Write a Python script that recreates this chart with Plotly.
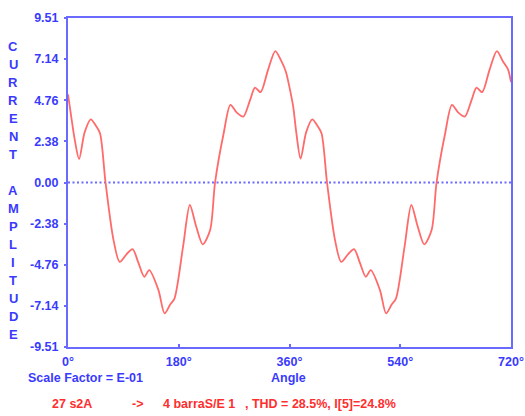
import plotly.graph_objects as go

# Current waveform samples over two cycles (angle in degrees, amplitude in scaled units)
angle_deg = [
    0, 6, 11, 18, 27, 37, 45, 52, 61, 74, 84, 95, 105, 114, 124, 132, 147, 157,
    166, 173, 187, 198, 208, 219, 231, 239, 253, 264, 274, 285, 296, 304, 313,
    325, 337, 347, 354, 360,
    366, 371, 378, 387, 397, 405, 412, 421, 434, 444, 455, 465, 474, 484, 492,
    507, 517, 526, 533, 547, 558, 568, 579, 591, 599, 613, 624, 634, 645, 656,
    664, 673, 685, 697, 707, 715, 720,
]
current = [
    5.10, 3.62, 2.46, 1.36, 2.90, 3.65, 3.30, 2.85, 0.00, -3.33, -4.59, -4.15,
    -3.85, -4.60, -5.45, -5.07, -6.22, -7.57, -7.05, -6.71, -3.71, -1.30, -2.50,
    -3.58, -2.75, 0.00, 2.85, 4.49, 4.05, 3.81, 4.78, 5.49, 5.22, 6.50, 7.60,
    7.00, 6.42, 5.50,
    4.39, 2.90, 1.38, 2.90, 3.65, 3.30, 2.85, 0.00, -3.33, -4.59, -4.15, -3.85,
    -4.60, -5.45, -5.07, -6.22, -7.57, -7.05, -6.71, -3.71, -1.30, -2.50, -3.58,
    -2.75, 0.00, 2.85, 4.49, 4.05, 3.81, 4.78, 5.49, 5.22, 6.50, 7.60, 7.00,
    6.55, 5.80,
]

y_ticks = [9.51, 7.14, 4.76, 2.38, 0.00, -2.38, -4.76, -7.14, -9.51]
y_tick_text = ["9.51", "7.14", "4.76", "2.38", "0.00", "-2.38", "-4.76", "-7.14", "-9.51"]
x_ticks = [0, 180, 360, 540, 720]
x_tick_text = ["0°", "180°", "360°", "540°", "720°"]

y_title = "CURRENT AMPLITUDE"
scale_note = "Scale Factor = E-01"
x_title = "Angle"
status_parts = ["27 s2A", "->", "4 barraS/E 1", ", THD = 28.5%, I[5]=24.8%"]
status_left_px = [50, 130, 161, 243]

BLUE_LINE = "#6a6aff"
BLUE_TEXT = "#3a3aff"
RED_TEXT = "#ff2e2e"
CURVE = "#ff6a6a"
FONT = "Liberation Sans, Arial, sans-serif"

W, H = 525, 416
L, R, T, B = 68, 14, 18, 69
pw, ph = W - L - R, H - T - B


def px_x(x):
    return (x - L) / pw


def px_y(y):
    return (H - B - y) / ph


def bold(s):
    return "<b>%s</b>" % s


fig = go.Figure()
fig.add_trace(go.Scatter(
    x=angle_deg, y=current, mode="lines",
    line=dict(color=CURVE, width=1.8, shape="spline", smoothing=0.8),
    hoverinfo="skip", showlegend=False,
))

# dotted zero reference line
fig.add_shape(type="line", xref="paper", yref="y", x0=0, x1=1, y0=0, y1=0,
              line=dict(color=BLUE_LINE, width=2, dash="2px,2.5px"), layer="below")

annotations = []
# stacked vertical axis title
for i, ch in enumerate(y_title):
    if ch == " ":
        continue
    annotations.append(dict(
        text=bold(ch), xref="paper", yref="paper",
        x=px_x(13), y=px_y(46.7 + i * 18.0), xanchor="center", yanchor="middle",
        showarrow=False, font=dict(family=FONT, size=13, color=BLUE_TEXT),
    ))
annotations.append(dict(
    text=bold(scale_note), xref="paper", yref="paper",
    x=px_x(85), y=px_y(378), xanchor="center", yanchor="middle", showarrow=False,
    font=dict(family=FONT, size=12.5, color=BLUE_TEXT),
))
annotations.append(dict(
    text=bold(x_title), xref="paper", yref="paper",
    x=px_x(288), y=px_y(378), xanchor="center", yanchor="middle", showarrow=False,
    font=dict(family=FONT, size=12.5, color=BLUE_TEXT),
))
for txt, xl in zip(status_parts, status_left_px):
    annotations.append(dict(
        text=bold(txt), xref="paper", yref="paper",
        x=px_x(xl), y=px_y(404), xanchor="left", yanchor="middle", showarrow=False,
        font=dict(family=FONT, size=12.5, color=RED_TEXT),
    ))

fig.update_layout(
    width=W, height=H,
    margin=dict(l=L, r=R, t=T, b=B, pad=0, autoexpand=False),
    paper_bgcolor="white", plot_bgcolor="white",
    showlegend=False,
    annotations=annotations,
    xaxis=dict(
        range=[0, 720], tickvals=x_ticks, ticktext=[bold(t) for t in x_tick_text],
        showgrid=False, zeroline=False, automargin=False,
        showline=True, linecolor=BLUE_LINE, linewidth=2, mirror=True,
        ticks="inside", ticklen=3, tickwidth=2, tickcolor=BLUE_LINE,
        tickfont=dict(family=FONT, size=12.5, color=BLUE_TEXT),
        ticklabelstandoff=2, ticklabeloverflow="allow",
    ),
    yaxis=dict(
        range=[-9.51, 9.51], tickvals=y_ticks, ticktext=[bold(t) for t in y_tick_text],
        showgrid=False, zeroline=False, automargin=False,
        showline=True, linecolor=BLUE_LINE, linewidth=2, mirror=True,
        ticks="outside", ticklen=2, tickwidth=2, tickcolor=BLUE_LINE,
        tickfont=dict(family=FONT, size=12.5, color=BLUE_TEXT),
        ticklabelstandoff=3,
    ),
)

fig.write_html("out.html")
